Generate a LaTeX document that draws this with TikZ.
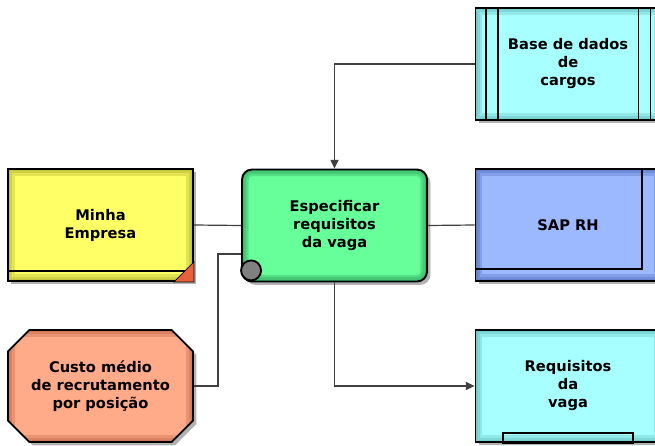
\documentclass[tikz,border=0pt]{standalone}
\usepackage{fontspec}
\setmainfont{DejaVu Sans}
\usetikzlibrary{arrows.meta,calc,shadows,shapes.misc}
\definecolor{cargo}{HTML}{A8FFFF}
\definecolor{cargoedge}{HTML}{5AB4B4}
\definecolor{firm}{HTML}{FFFF66}
\definecolor{firmedge}{HTML}{A8A828}
\definecolor{task}{HTML}{66FF99}
\definecolor{taskedge}{HTML}{2A9A58}
\definecolor{sys}{HTML}{9CB8FF}
\definecolor{sysedge}{HTML}{4A68B8}
\definecolor{cost}{HTML}{FFAA88}
\definecolor{costedge}{HTML}{B86040}
\definecolor{corner}{HTML}{E8603C}
\begin{document}
\begin{tikzpicture}[x=0.75pt,y=-0.75pt,
    box/.style={draw=black, line width=1.4pt, minimum width=138.75pt, minimum height=84pt,
        align=center, font=\fontsize{11}{13.5}\selectfont\bfseries,
        drop shadow={shadow xshift=2.5pt, shadow yshift=-2.5pt, fill=black!30, opacity=1}},
    glow/.style={path picture={
        \foreach \w in {10pt,6.5pt,3pt}
            \draw[#1, opacity=0.3, line width=\w] (path picture bounding box.south west)
                rectangle (path picture bounding box.north east);}},
    link/.style={draw=black!75, line width=0.9pt},
    tip/.style={-{Triangle[length=6.5pt,width=6pt]}}]
    \useasboundingbox (0,0) rectangle (655,445);
    \clip (0,0) rectangle (655,445);

    % objects
    \node[box, fill=cargo, glow=cargoedge] (base) at (568,64) {Base de dados\\de\\cargos};
    \node[box, fill=firm, glow=firmedge] (firm) at (100.5,225) {Minha\\Empresa};
    \node[box, fill=task, glow=taskedge, rounded corners=7.5pt] (task) at (334.5,225.5)
        {Especificar\\requisitos\\da vaga};
    \node[box, fill=sys, glow=sysedge] (sap) at (568,225) {SAP RH};
    \node[box, chamfered rectangle, chamfered rectangle xsep=9pt, chamfered rectangle ysep=7pt,
        fill=cost, glow=costedge] (cost) at (100.5,386) {Custo médio\\de recrutamento\\por posição};
    \node[box, fill=cargo, glow=cargoedge] (req) at (568,386) {Requisitos\\da\\vaga};

    % details
    \begin{scope}[line width=1.4pt]
        \foreach \d in {11,23} {
            \draw ($(base.north west)+(\d,0)$) -- ($(base.south west)+(\d,0)$);
            \draw ($(base.north east)+(-\d,0)$) -- ($(base.south east)+(-\d,0)$);
        }
        \draw ($(firm.south west)+(0,-11)$) -- ($(firm.south east)+(0,-11)$);
        \filldraw[fill=corner, line width=0.6pt] (firm.south east) -- ++(-20,0) -- ++(20,-20) -- cycle;
        \filldraw[fill=gray] ($(task.south west)+(10,-12)$) circle[radius=10];
        \draw ($(sap.north west)+(167,0)$) |- ($(sap.south west)+(0,-13)$);
        \draw ($(req.south west)+(28,0)$) rectangle ($(req.south west)+(158,-10)$);
    \end{scope}

    % connectors
    \draw[link, tip] (base.west) -| (task.north);
    \draw[link] (firm.east) -- (task.west);
    \draw[link] (sap.west) -- (task.east);
    \draw[link] (cost.east) -- ++(24,0) |- ($(task.west)!0.5!(task.south west)$);
    \draw[link, tip] (task.south) |- (req.west);
\end{tikzpicture}
\end{document}
